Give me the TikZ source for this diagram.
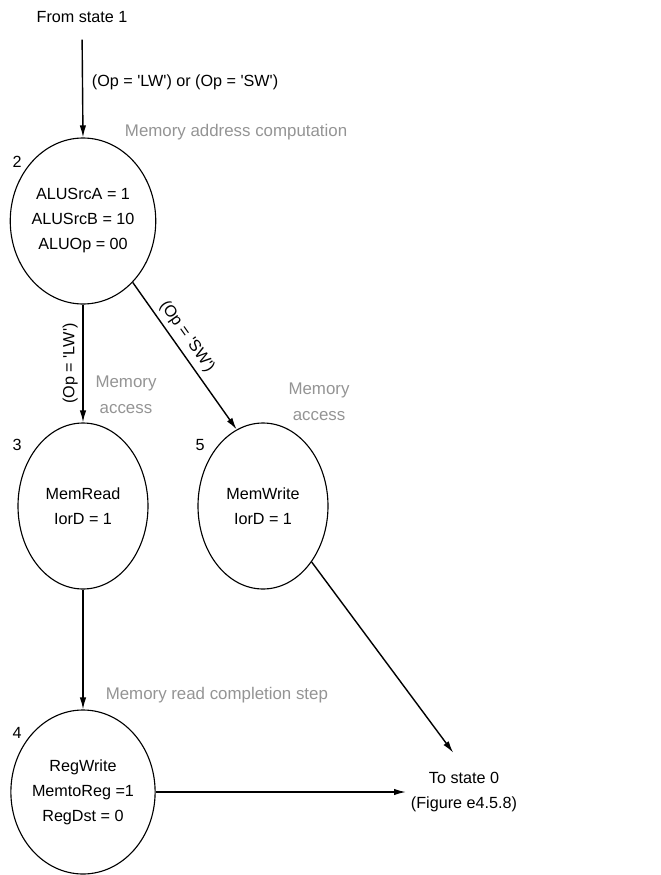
\documentclass[tikz,border=0pt]{standalone}
\usepackage{fontspec}
\setmainfont{Liberation Sans}
\usepackage{tikz}
\usetikzlibrary{shapes.geometric, arrows.meta}
\newcommand{\tq}{\textquotesingle}

\begin{document}
\begin{tikzpicture}[
        font=\fontsize{11.5}{17.8}\selectfont,
        state/.style={draw, line width=0.8pt, ellipse, minimum width=3.25cm, minimum height=4.15cm, inner sep=0pt, align=center},
        trans/.style={line width=1pt, -{Latex[length=3mm, width=1.6mm]}},
        note/.style={black!42, align=center, font=\fontsize{12}{18.5}\selectfont},
        num/.style={inner sep=0pt}
    ]
        \useasboundingbox (0,0) rectangle (16.525,-21.875);

        % Define the states
        \node[state] (s2) at (2.075,-5.525) {ALUSrcA = 1\\ALUSrcB = 10\\ALUOp = 00};
        \node[state] (s3) at (2.075,-12.65) {MemRead\\IorD = 1};
        \node[state] (s5) at (6.575,-12.65) {MemWrite\\IorD = 1};
        \node[state, minimum height=4.1cm] (s4) at (2.075,-19.8) {RegWrite\\MemtoReg =1\\RegDst = 0};

        % Entry and exit points
        \node (from) at (2.05,-0.425) {From state 1};
        \node[align=center] (to0) at (11.6,-19.8) {To state 0\\(Figure e4.5.8)};

        % State numbers
        \node[num] at (0.425,-4.05) {2};
        \node[num] at (0.425,-11.125) {3};
        \node[num] at (5.0,-11.125) {5};
        \node[num] at (0.425,-18.325) {4};

        % Draw the transitions
        \draw[trans, shorten <=0.3cm] (from.south) -- (s2.north)
            node[midway, right=0.1cm] {(Op = \tq LW\tq) or (Op = \tq SW\tq)};
        \draw[trans] (s2.south) -- node[rotate=90, anchor=south] {(Op = \tq LW\tq)} (s3.north);
        \draw[trans] (s2.-51.5) -- node[pos=0.42, sloped, above] {(Op = \tq SW\tq)} (s5.109.6);
        \draw[trans] (s3.south) -- (s4.north);
        \draw[trans, shorten >=0.45cm] (s5.-49) -- (to0.north);
        \draw[trans] (s4.east) -- (to0.west);

        % Label the steps in gray
        \node[note, anchor=west] at (3.0,-3.3) {Memory address computation};
        \node[note] at (3.15,-9.86) {Memory\\access};
        \node[note] at (7.975,-10.04) {Memory\\access};
        \node[note, anchor=west] at (2.52,-17.375) {Memory read completion step};
    \end{tikzpicture}
\end{document}
